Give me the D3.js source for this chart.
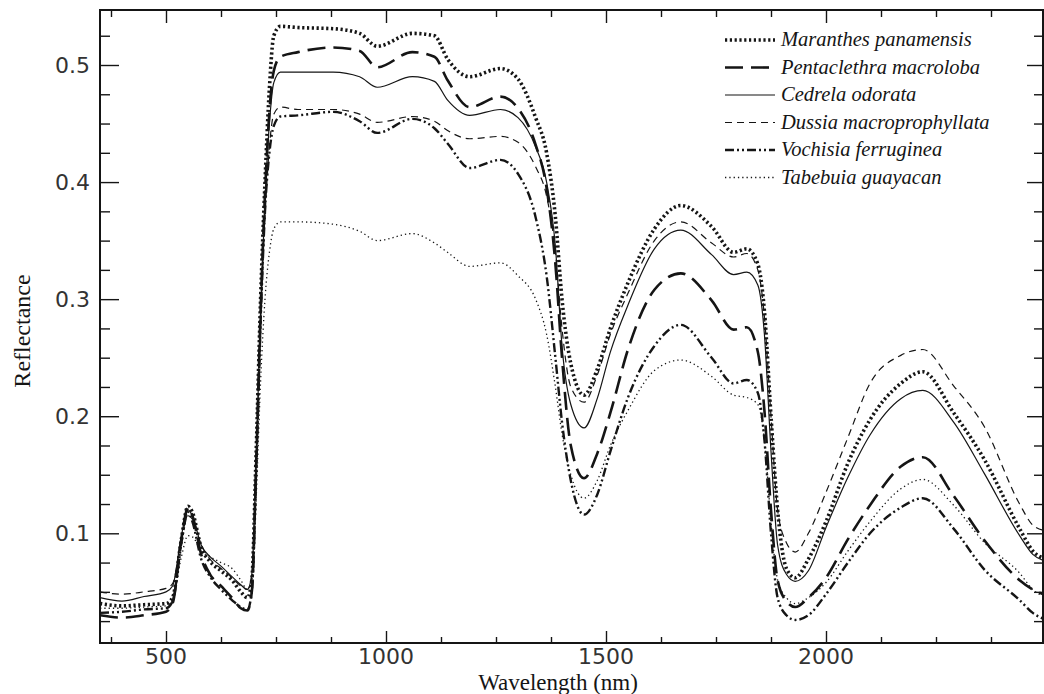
<!DOCTYPE html>
<html>
<head>
<meta charset="utf-8">
<script src="https://cdn.jsdelivr.net/npm/d3@7"></script>
<style>
  body { margin: 0; background: #fff; }
  svg { display: block; }
</style>
</head>
<body>
<svg id="chart" width="1044" height="694"></svg>
<script>
const wavelengths = [350, 400, 450, 500, 515, 535, 550, 560, 580, 600,
  625, 650, 670, 685, 695, 705, 715, 725, 735, 745,
  760, 800, 880, 940, 980, 1060, 1110, 1140, 1190, 1260,
  1300, 1340, 1365, 1385, 1400, 1420, 1450, 1480, 1510, 1550,
  1610, 1670, 1740, 1790, 1820, 1845, 1860, 1875, 1890, 1910,
  1930, 1960, 2000, 2050, 2100, 2170, 2220, 2290, 2360, 2440,
  2470, 2500];

const maranthes = [0.040, 0.038, 0.039, 0.040, 0.045, 0.095, 0.123, 0.118, 0.088, 0.076,
  0.068, 0.060, 0.050, 0.045, 0.060, 0.170, 0.300, 0.400, 0.480, 0.525,
  0.533, 0.532, 0.531, 0.527, 0.516, 0.527, 0.525, 0.505, 0.490, 0.497,
  0.488, 0.455, 0.425, 0.370, 0.300, 0.245, 0.218, 0.240, 0.275, 0.314,
  0.360, 0.380, 0.362, 0.340, 0.343, 0.330, 0.290, 0.200, 0.120, 0.070,
  0.062, 0.078, 0.110, 0.160, 0.197, 0.228, 0.238, 0.203, 0.163, 0.104,
  0.085, 0.078];

const pentaclethra = [0.030, 0.028, 0.030, 0.033, 0.040, 0.095, 0.122, 0.115, 0.082, 0.065,
  0.055, 0.045, 0.036, 0.034, 0.050, 0.160, 0.290, 0.390, 0.460, 0.495,
  0.507, 0.511, 0.515, 0.512, 0.498, 0.511, 0.507, 0.487, 0.464, 0.473,
  0.463, 0.432, 0.395, 0.330, 0.250, 0.175, 0.147, 0.168, 0.203, 0.257,
  0.308, 0.322, 0.299, 0.274, 0.276, 0.255, 0.205, 0.120, 0.060, 0.042,
  0.037, 0.045, 0.062, 0.095, 0.124, 0.157, 0.165, 0.132, 0.094, 0.060,
  0.052, 0.047];

const cedrela = [0.045, 0.042, 0.046, 0.050, 0.055, 0.098, 0.120, 0.115, 0.090, 0.080,
  0.072, 0.063, 0.056, 0.052, 0.065, 0.165, 0.290, 0.385, 0.450, 0.485,
  0.494, 0.494, 0.494, 0.490, 0.481, 0.490, 0.486, 0.470, 0.457, 0.462,
  0.455, 0.430, 0.400, 0.345, 0.260, 0.210, 0.190, 0.215, 0.255, 0.295,
  0.343, 0.359, 0.338, 0.321, 0.323, 0.312, 0.270, 0.170, 0.090, 0.065,
  0.059, 0.068, 0.105, 0.148, 0.184, 0.215, 0.222, 0.195, 0.151, 0.098,
  0.082, 0.076];

const dussia = [0.050, 0.048, 0.050, 0.053, 0.057, 0.095, 0.115, 0.112, 0.090, 0.078,
  0.070, 0.062, 0.055, 0.052, 0.063, 0.160, 0.280, 0.370, 0.430, 0.458,
  0.464, 0.462, 0.462, 0.458, 0.451, 0.456, 0.452, 0.444, 0.437, 0.439,
  0.434, 0.413, 0.388, 0.340, 0.275, 0.225, 0.212, 0.235, 0.270, 0.305,
  0.350, 0.366, 0.348, 0.336, 0.339, 0.325, 0.285, 0.200, 0.120, 0.092,
  0.084, 0.100, 0.135, 0.182, 0.228, 0.252, 0.257, 0.226, 0.191, 0.125,
  0.107, 0.102];

const vochisia = [0.032, 0.033, 0.035, 0.036, 0.042, 0.092, 0.118, 0.110, 0.078, 0.063,
  0.052, 0.043, 0.037, 0.035, 0.050, 0.155, 0.280, 0.375, 0.425, 0.448,
  0.456, 0.457, 0.460, 0.452, 0.442, 0.454, 0.446, 0.433, 0.412, 0.419,
  0.407, 0.370, 0.320, 0.250, 0.195, 0.145, 0.116, 0.133, 0.170, 0.216,
  0.260, 0.278, 0.250, 0.228, 0.231, 0.220, 0.180, 0.100, 0.045, 0.030,
  0.026, 0.030, 0.048, 0.075, 0.100, 0.122, 0.130, 0.104, 0.069, 0.043,
  0.032, 0.026];

const tabebuia = [0.036, 0.036, 0.037, 0.038, 0.043, 0.080, 0.098, 0.097, 0.085, 0.080,
  0.075, 0.070, 0.060, 0.052, 0.060, 0.130, 0.230, 0.300, 0.340, 0.360,
  0.366, 0.366, 0.364, 0.358, 0.350, 0.356, 0.348, 0.340, 0.328, 0.331,
  0.320, 0.300, 0.270, 0.225, 0.185, 0.150, 0.130, 0.145, 0.175, 0.205,
  0.239, 0.248, 0.234, 0.218, 0.216, 0.210, 0.180, 0.110, 0.060, 0.045,
  0.040, 0.045, 0.058, 0.085, 0.110, 0.138, 0.146, 0.124, 0.092, 0.066,
  0.052, 0.045];

const speciesNames = ["Maranthes panamensis", "Pentaclethra macroloba", "Cedrela odorata",
  "Dussia macroprophyllata", "Vochisia ferruginea", "Tabebuia guayacan"];
const xTickLabels = [500, 1000, 1500, 2000];
const yTickLabels = [0.1, 0.2, 0.3, 0.4, 0.5];

// line styles, same order as speciesNames
const styles = [
  { width: 3.6, dash: "2.2,2.6" },        // thick dots
  { width: 2.6, dash: "18,8" },           // long dash
  { width: 1.2, dash: null },             // solid
  { width: 1.2, dash: "7,5" },            // thin dash
  { width: 2.4, dash: "9,3,2,3,2,3" },    // dash dot dot
  { width: 1.3, dash: "1.3,3" }           // fine dots
];

// plot frame in pixels
const plotLeft = 100, plotRight = 1043, plotTop = 10, plotBottom = 643;
const ink = "#151515";

document.addEventListener('DOMContentLoaded', function () {
  drawChart();
});

function drawChart() {
  const svg = d3.select("#chart");

  const x = d3.scaleLinear()
    .domain([375, 2000])
    .range([111, 826]);

  const y = d3.scaleLinear()
    .domain([0.1, 0.5])
    .range([533.3, 65]);

  const seriesValues = [maranthes, pentaclethra, cedrela, dussia, vochisia, tabebuia];
  const series = speciesNames.map((name, i) => ({
    name: name,
    style: styles[i],
    points: wavelengths.map((w, j) => ({ w: w, r: seriesValues[i][j] }))
  }));

  svg.append("clipPath").attr("id", "plotclip")
    .append("rect")
    .attr("x", plotLeft).attr("y", plotTop)
    .attr("width", plotRight - plotLeft).attr("height", plotBottom - plotTop);

  const line = d3.line()
    .x(d => x(d.w))
    .y(d => y(d.r))
    .curve(d3.curveMonotoneX);

  // curves
  svg.append("g")
    .attr("clip-path", "url(#plotclip)")
    .selectAll("path")
    .data(series)
    .join("path")
    .attr("fill", "none")
    .attr("stroke", ink)
    .attr("stroke-width", d => d.style.width)
    .attr("stroke-dasharray", d => d.style.dash)
    .attr("stroke-linejoin", "round")
    .attr("d", d => line(d.points));

  // ticks: every 125 nm on bottom and top, every 0.025 on both sides
  const xMinor = d3.range(375, 2501, 125);
  const yMinor = d3.range(0.025, 0.546, 0.025);

  const bottomAxis = d3.axisBottom(x).tickValues(xMinor)
    .tickSizeInner(0).tickSizeOuter(0).tickFormat("");

  svg.append("g")
    .attr("transform", `translate(0,${plotBottom})`)
    .call(bottomAxis)
    .call(g => g.select(".domain").remove())
    .selectAll(".tick line")
    .attr("y2", d => xTickLabels.includes(d) ? -12 : -6)
    .attr("stroke", ink).attr("stroke-width", 1.4);

  const topAxis = d3.axisTop(x).tickValues(xMinor)
    .tickSizeInner(0).tickSizeOuter(0).tickFormat("");

  svg.append("g")
    .attr("transform", `translate(0,${plotTop})`)
    .call(topAxis)
    .call(g => g.select(".domain").remove())
    .selectAll(".tick line")
    .attr("y2", d => xTickLabels.includes(d) ? 13 : 7)
    .attr("stroke", ink).attr("stroke-width", 1.4);

  const isMajorY = d => yTickLabels.some(v => Math.abs(v - d) < 1e-6);

  const leftAxis = d3.axisLeft(y).tickValues(yMinor)
    .tickSizeInner(0).tickSizeOuter(0).tickFormat("");

  svg.append("g")
    .attr("transform", `translate(${plotLeft},0)`)
    .call(leftAxis)
    .call(g => g.select(".domain").remove())
    .selectAll(".tick line")
    .attr("x2", d => isMajorY(d) ? 19 : 10)
    .attr("stroke", ink).attr("stroke-width", 1.4);

  const rightAxis = d3.axisRight(y).tickValues(yMinor)
    .tickSizeInner(0).tickSizeOuter(0).tickFormat("");

  svg.append("g")
    .attr("transform", `translate(${plotRight},0)`)
    .call(rightAxis)
    .call(g => g.select(".domain").remove())
    .selectAll(".tick line")
    .attr("x2", d => isMajorY(d) ? -16 : -9)
    .attr("stroke", ink).attr("stroke-width", 1.4);

  // frame
  svg.append("rect")
    .attr("x", plotLeft).attr("y", plotTop)
    .attr("width", plotRight - plotLeft).attr("height", plotBottom - plotTop)
    .attr("fill", "none")
    .attr("stroke", ink)
    .attr("stroke-width", 2);

  // tick labels (thin sans like the scan)
  svg.append("g")
    .selectAll("text")
    .data(xTickLabels)
    .join("text")
    .attr("x", d => x(d))
    .attr("y", 664)
    .attr("text-anchor", "middle")
    .style("font-family", "'DejaVu Sans', sans-serif")
    .style("font-size", "22px")
    .attr("fill", "#333")
    .text(d => d);

  svg.append("g")
    .selectAll("text")
    .data(yTickLabels)
    .join("text")
    .attr("x", 90)
    .attr("y", d => y(d) + 8)
    .attr("text-anchor", "end")
    .style("font-family", "'DejaVu Sans', sans-serif")
    .style("font-size", "22px")
    .attr("fill", "#333")
    .text(d => d3.format(".1f")(d));

  // axis titles
  svg.append("text")
    .attr("x", 558)
    .attr("y", 690)
    .attr("text-anchor", "middle")
    .style("font-family", "'Liberation Serif', 'Times New Roman', serif")
    .style("font-size", "23px")
    .attr("fill", ink)
    .text("Wavelength (nm)");

  svg.append("text")
    .attr("transform", "translate(30,331) rotate(-90)")
    .attr("text-anchor", "middle")
    .style("font-family", "'Liberation Serif', 'Times New Roman', serif")
    .style("font-size", "24px")
    .attr("fill", ink)
    .text("Reflectance");

  // legend
  const legend = svg.append("g")
    .selectAll("g")
    .data(series)
    .join("g")
    .attr("transform", (d, i) => `translate(0,${40 + i * 27.5})`);

  legend.append("line")
    .attr("x1", 725).attr("x2", 775)
    .attr("y1", 0).attr("y2", 0)
    .attr("stroke", ink)
    .attr("stroke-width", d => d.style.width)
    .attr("stroke-dasharray", d => d.style.dash);

  legend.append("text")
    .attr("x", 781)
    .attr("y", 6)
    .style("font-family", "'Liberation Serif', 'Times New Roman', serif")
    .style("font-style", "italic")
    .style("font-size", "20.5px")
    .attr("fill", ink)
    .text(d => d.name);
}
</script>
</body>
</html>
